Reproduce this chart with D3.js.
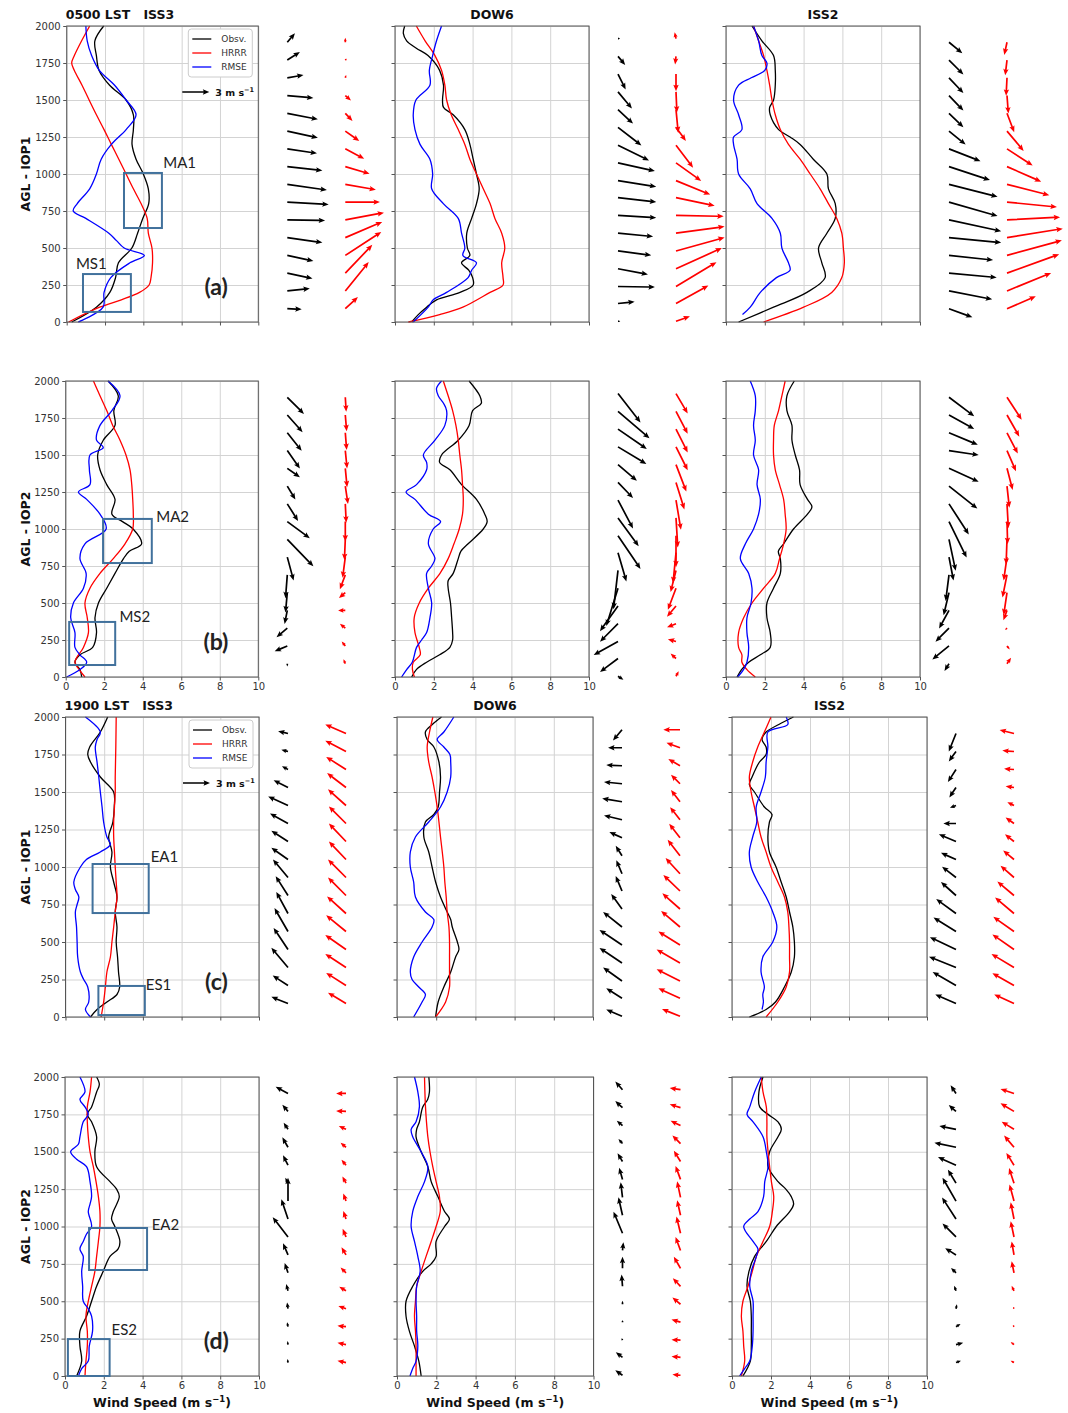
<!DOCTYPE html>
<html>
<head>
<meta charset="utf-8">
<script src="https://cdn.jsdelivr.net/npm/d3@7"></script>
<style>
  body { margin: 0; background: #fff; }
</style>
</head>
<body>
<div id="chart"></div>
<script>
// ---- shared axes / labels ----
const SPEED_TICKS = [0, 2, 4, 6, 8, 10];
const HEIGHT_TICKS = [0, 250, 500, 750, 1000, 1250, 1500, 1750, 2000];
const SITES = ['ISS3', 'DOW6', 'ISS2'];
const TIMES = ['0500 LST', '1900 LST'];
const ROW_LABELS = ['AGL - IOP1', 'AGL - IOP2', 'AGL - IOP1', 'AGL - IOP2'];
const PANEL_TAGS = ['(a)', '(b)', '(c)', '(d)'];
const LEGEND_NAMES = ['Obsv.', 'HRRR', 'RMSE'];
const REF_SPEED = 3;

// heights (m AGL) where the wind arrows are drawn
const ISS_LEVELS = [1890, 1770, 1650, 1530, 1410, 1290, 1170, 1050, 930, 810, 690, 570, 450, 330, 210, 90];
const DOW_LEVELS = [1915, 1795, 1675, 1555, 1435, 1315, 1195, 1075, 955, 840, 720, 600, 480, 360, 240, 125, 5];

// ---- wind speed profiles: [height m, speed m/s] ----
// (a) 0500 LST, IOP1
const aIss3Obs = [[2000,1.93],[1900,1.47],[1800,1.55],[1700,1.69],[1600,2.24],[1500,3.1],[1400,3.48],[1300,3.48],[1200,3.41],[1100,3.62],[1000,4.0],[900,4.26],[800,4.28],[700,3.97],[600,3.7],[500,3.4],[400,2.7],[300,2.55],[200,2.25],[100,1.55],[0,0.26]];
const aIss3Hrrr = [[2000,1.2],[1900,0.78],[1800,0.4],[1750,0.26],[1700,0.4],[1600,0.8],[1500,1.17],[1400,1.55],[1300,1.95],[1200,2.33],[1100,2.72],[1000,3.1],[900,3.48],[800,3.88],[700,4.2],[600,4.26],[500,4.45],[400,4.48],[300,4.4],[250,4.3],[200,3.8],[150,2.85],[100,1.72],[0,0.1]];
const aIss3Rmse = [[2000,1.0],[1900,1.07],[1800,1.3],[1700,1.7],[1600,2.5],[1500,3.1],[1400,3.62],[1300,3.1],[1200,2.33],[1100,1.8],[1000,1.55],[900,1.2],[800,0.55],[750,0.34],[700,1.0],[600,2.2],[550,2.6],[500,3.0],[450,4.05],[400,3.3],[300,2.3],[200,1.95],[100,1.9],[0,0.6]];
const aDow6Obs = [[2000,0.5],[1950,0.43],[1900,0.6],[1850,1.1],[1800,1.7],[1700,2.3],[1600,2.5],[1500,2.45],[1450,2.5],[1400,3.0],[1300,3.6],[1200,3.86],[1100,4.03],[1000,4.2],[900,4.34],[800,4.2],[700,3.95],[600,3.7],[500,3.73],[450,3.86],[400,3.43],[350,3.8],[300,4.0],[250,4.03],[200,3.35],[150,2.14],[100,1.63],[50,1.2],[0,0.86]];
const aDow6Hrrr = [[2000,1.1],[1900,1.55],[1800,2.06],[1700,2.4],[1600,2.57],[1500,2.66],[1400,2.9],[1300,3.26],[1200,3.6],[1100,3.86],[1000,4.2],[900,4.55],[800,4.9],[700,5.15],[600,5.5],[500,5.66],[400,5.5],[300,5.57],[250,5.57],[200,4.9],[100,3.5],[50,2.3],[0,0.69]];
const aDow6Rmse = [[2000,2.4],[1900,2.14],[1800,1.94],[1700,1.77],[1600,1.8],[1500,1.08],[1400,0.94],[1300,1.03],[1200,1.29],[1100,1.8],[1000,1.94],[900,1.89],[800,2.49],[700,3.26],[600,3.43],[500,3.6],[450,3.5],[400,4.2],[350,3.95],[300,3.77],[200,2.66],[150,1.97],[100,1.71],[0,0.94]];
const aIss2Obs = [[2000,1.34],[1900,1.85],[1800,2.45],[1700,2.54],[1600,2.54],[1500,2.45],[1450,2.25],[1400,2.28],[1300,2.71],[1250,3.3],[1200,3.82],[1100,4.5],[1000,5.2],[900,5.28],[800,5.63],[700,5.63],[600,5.2],[500,4.77],[400,4.94],[300,5.11],[200,4.17],[100,2.45],[0,0.65]];
const aIss2Hrrr = [[2000,1.42],[1900,1.68],[1800,1.94],[1700,2.11],[1600,2.25],[1500,2.37],[1400,2.54],[1300,2.8],[1200,3.22],[1100,3.82],[1000,4.34],[900,4.85],[800,5.28],[700,5.71],[600,5.97],[500,6.05],[400,6.1],[300,5.97],[200,5.45],[100,4.0],[0,1.94]];
const aIss2Rmse = [[2000,1.42],[1900,1.68],[1800,1.85],[1750,2.11],[1700,2.0],[1650,1.3],[1600,0.65],[1500,0.39],[1400,0.65],[1300,0.82],[1250,0.39],[1200,0.39],[1100,0.57],[1000,0.65],[900,1.25],[800,1.6],[700,2.37],[600,2.8],[500,2.88],[400,3.22],[350,3.3],[300,2.6],[200,1.77],[100,1.25],[50,0.85]];

// (b) 0500 LST, IOP2
const bIss3Obs = [[2000,2.2],[1900,2.73],[1800,2.5],[1700,2.56],[1600,1.95],[1500,1.66],[1400,1.78],[1300,2.13],[1200,2.56],[1100,2.4],[1050,2.95],[1000,3.5],[900,3.94],[850,3.3],[800,3.0],[700,2.56],[600,2.13],[500,1.7],[400,1.52],[300,1.6],[200,1.4],[150,0.74],[100,0.48],[50,0.74],[0,0.83]];
const bIss3Hrrr = [[2000,1.44],[1900,1.78],[1800,2.13],[1700,2.44],[1600,2.82],[1500,3.13],[1400,3.34],[1300,3.43],[1200,3.48],[1100,3.51],[1000,3.48],[900,3.08],[800,2.47],[700,1.78],[600,1.26],[500,1.0],[400,1.12],[300,1.18],[200,0.92],[100,0.48],[50,0.7],[0,1.0]];
const bIss3Rmse = [[2000,2.2],[1900,2.82],[1800,2.4],[1700,1.78],[1600,1.6],[1550,1.95],[1500,1.26],[1400,1.23],[1300,1.26],[1250,0.66],[1200,1.09],[1100,1.78],[1000,2.1],[900,1.0],[800,0.74],[700,1.06],[600,0.92],[500,0.4],[400,0.26],[300,0.48],[200,0.48],[150,0.74],[100,1.09],[50,0.74],[0,0.05]];
const bDow6Obs = [[2000,3.82],[1900,4.37],[1850,4.45],[1800,4.0],[1700,3.82],[1600,3.26],[1500,2.4],[1450,2.3],[1400,2.83],[1300,3.43],[1200,4.2],[1100,4.63],[1050,4.75],[1000,4.55],[900,3.77],[850,3.4],[800,3.26],[700,3.0],[650,2.74],[600,2.74],[500,2.86],[400,2.92],[300,2.97],[250,2.97],[200,2.83],[150,2.3],[100,1.63],[50,1.1],[0,0.86]];
const bDow6Hrrr = [[2000,2.49],[1900,2.74],[1800,2.97],[1700,3.14],[1600,3.26],[1500,3.34],[1400,3.43],[1300,3.48],[1200,3.52],[1100,3.48],[1000,3.31],[900,3.04],[800,2.74],[700,2.32],[600,1.72],[500,1.25],[400,0.99],[300,1.03],[200,1.25],[150,1.3],[100,0.94],[50,0.9],[0,1.0]];
const bDow6Rmse = [[2000,2.4],[1950,2.14],[1900,2.23],[1850,2.5],[1800,2.66],[1700,2.57],[1600,2.06],[1500,1.46],[1450,1.63],[1400,1.63],[1300,1.11],[1250,0.57],[1200,1.03],[1100,1.72],[1050,2.35],[1000,1.97],[900,1.72],[800,2.06],[750,1.89],[700,1.63],[600,1.72],[500,1.89],[400,1.8],[300,1.63],[250,1.37],[200,1.11],[100,0.89],[50,0.6],[0,0.34]];
const bIss2Obs = [[2000,3.52],[1900,3.14],[1800,3.14],[1700,3.4],[1600,3.4],[1500,3.57],[1400,3.79],[1300,3.82],[1200,4.2],[1150,4.43],[1100,4.2],[1000,3.48],[900,2.97],[850,2.7],[800,2.8],[700,2.8],[600,2.45],[500,2.11],[400,2.11],[300,2.28],[200,2.28],[150,1.77],[100,1.17],[50,0.8],[0,0.57]];
const bIss2Hrrr = [[2000,3.05],[1900,2.88],[1800,2.71],[1700,2.49],[1600,2.45],[1500,2.45],[1400,2.54],[1300,2.76],[1200,2.97],[1100,3.05],[1000,3.1],[900,2.97],[800,2.76],[700,2.54],[600,1.94],[500,1.34],[400,0.91],[300,0.65],[200,0.65],[150,0.82],[100,0.82],[50,1.08],[0,1.51]];
const bIss2Rmse = [[2000,1.25],[1900,1.51],[1800,1.51],[1700,1.42],[1600,1.51],[1500,1.42],[1400,1.68],[1300,1.6],[1200,1.77],[1100,1.68],[1000,1.42],[900,1.0],[800,0.74],[700,1.17],[600,1.34],[500,1.29],[400,1.08],[300,1.08],[200,1.17],[100,1.08],[50,0.9],[0,0.6]];

// (c) 1900 LST, IOP1
const cIss3Obs = [[2000,2.18],[1900,1.8],[1800,1.25],[1750,1.15],[1700,1.29],[1600,1.8],[1500,2.49],[1400,2.52],[1300,2.45],[1200,2.23],[1100,2.4],[1000,2.32],[900,2.49],[800,2.66],[700,2.57],[600,2.66],[500,2.62],[400,2.69],[300,2.74],[200,2.8],[150,2.66],[100,2.14],[50,1.63],[0,1.29]];
const cIss3Hrrr = [[2000,2.62],[1800,2.6],[1600,2.57],[1500,2.57],[1400,2.53],[1300,2.49],[1200,2.49],[1100,2.53],[1000,2.57],[900,2.62],[800,2.66],[700,2.57],[600,2.49],[500,2.4],[400,2.32],[300,2.14],[200,2.06],[100,1.97],[0,1.84]];
const cIss3Rmse = [[2000,1.03],[1900,1.8],[1850,1.63],[1800,1.54],[1700,1.63],[1600,1.72],[1500,1.8],[1400,1.89],[1300,1.97],[1200,2.14],[1150,2.32],[1100,1.8],[1050,1.08],[1000,0.77],[900,0.43],[850,0.51],[800,0.69],[750,0.6],[700,0.51],[600,0.57],[500,0.6],[400,0.63],[300,0.77],[250,0.94],[200,1.15],[100,1.2],[50,1.03],[0,1.29]];
const cDow6Obs = [[2000,2.27],[1950,1.8],[1900,1.45],[1850,1.54],[1800,1.88],[1700,2.14],[1600,2.22],[1500,2.17],[1400,2.1],[1350,1.88],[1300,1.45],[1200,1.37],[1100,1.62],[1000,1.79],[900,1.97],[800,2.22],[700,2.56],[650,2.74],[600,2.82],[500,3.08],[450,3.16],[400,2.99],[300,2.74],[200,2.39],[100,2.1],[0,1.97]];
const cDow6Hrrr = [[2000,1.83],[1900,1.66],[1800,1.54],[1700,1.62],[1600,1.79],[1500,1.93],[1400,2.05],[1300,2.14],[1200,2.22],[1100,2.31],[1000,2.39],[900,2.44],[800,2.51],[700,2.56],[600,2.65],[500,2.68],[400,2.68],[300,2.68],[200,2.68],[100,2.48],[0,1.97]];
const cDow6Rmse = [[2000,2.9],[1900,2.39],[1850,2.05],[1800,2.39],[1750,2.7],[1700,2.74],[1600,2.74],[1500,2.56],[1400,2.22],[1300,1.62],[1200,0.94],[1100,0.68],[1000,0.68],[900,0.85],[800,0.94],[700,1.45],[650,1.88],[600,1.79],[500,1.28],[400,0.85],[300,0.68],[250,0.77],[200,1.11],[150,1.45],[100,1.28],[0,0.85]];
const cIss2Obs = [[2000,3.15],[1950,2.4],[1900,1.75],[1850,1.54],[1800,1.75],[1750,1.75],[1700,1.41],[1600,1.03],[1550,0.89],[1500,1.15],[1400,1.66],[1350,2.05],[1300,1.92],[1200,1.84],[1100,1.92],[1000,2.26],[900,2.52],[800,2.78],[700,2.95],[600,3.12],[500,3.2],[400,3.2],[300,3.04],[200,2.69],[100,2.23],[50,1.75],[0,0.89]];
const cIss2Hrrr = [[2000,2.0],[1900,1.66],[1800,1.32],[1700,1.06],[1600,0.89],[1500,0.98],[1400,1.15],[1300,1.32],[1200,1.49],[1100,1.75],[1000,2.0],[900,2.35],[800,2.69],[700,2.86],[600,2.92],[500,2.95],[400,2.95],[300,2.95],[200,2.78],[100,2.35],[0,1.75]];
const cIss2Rmse = [[2000,2.78],[1950,2.86],[1900,1.84],[1800,1.84],[1700,1.75],[1600,1.71],[1500,1.49],[1400,1.24],[1300,1.27],[1200,1.06],[1100,0.89],[1000,0.98],[900,1.32],[800,1.75],[700,2.09],[600,2.3],[500,2.09],[400,1.58],[300,1.49],[200,1.66],[150,1.58],[100,1.61],[50,1.54]];

// (d) 1900 LST, IOP2
const dIss3Obs = [[2000,1.63],[1950,1.77],[1900,1.63],[1800,1.37],[1750,1.15],[1700,1.37],[1600,1.63],[1500,1.54],[1400,1.63],[1300,2.32],[1250,2.66],[1200,2.8],[1100,2.49],[1050,2.4],[1000,2.57],[900,2.83],[850,2.74],[800,2.32],[700,1.97],[600,1.63],[500,1.37],[400,1.11],[300,0.77],[200,0.77],[100,0.86],[0,0.6]];
const dIss3Hrrr = [[2000,1.37],[1900,1.29],[1800,1.15],[1700,1.15],[1600,1.2],[1500,1.29],[1400,1.46],[1300,1.6],[1200,1.72],[1100,1.8],[1000,1.8],[900,1.72],[800,1.63],[700,1.54],[600,1.37],[500,1.2],[400,1.08],[300,1.15],[200,1.15],[100,1.08],[0,1.03]];
const dIss3Rmse = [[2000,0.77],[1900,1.03],[1850,0.77],[1800,1.03],[1750,1.2],[1700,0.94],[1600,0.77],[1550,0.69],[1500,0.29],[1450,0.6],[1400,1.11],[1300,1.29],[1200,1.37],[1150,1.29],[1100,1.2],[1000,1.37],[950,1.11],[900,0.94],[850,0.77],[800,0.94],[700,0.86],[600,0.91],[500,0.94],[450,1.2],[400,1.37],[300,1.42],[200,1.25],[100,1.2],[50,0.86],[0,0.69]];
const dDow6Obs = [[2000,1.62],[1900,1.65],[1850,1.56],[1800,1.31],[1700,1.14],[1650,1.0],[1600,0.97],[1500,1.23],[1400,1.57],[1300,1.74],[1200,2.08],[1100,2.42],[1050,2.67],[1000,2.42],[900,1.99],[800,1.99],[750,1.74],[700,1.31],[600,0.8],[500,0.46],[400,0.46],[300,0.63],[200,0.89],[100,1.11],[0,1.23]];
const dDow6Hrrr = [[2000,1.4],[1900,1.42],[1800,1.45],[1700,1.5],[1600,1.57],[1500,1.68],[1400,1.82],[1300,1.99],[1200,2.16],[1100,2.2],[1000,1.99],[900,1.74],[800,1.48],[700,1.23],[600,1.0],[500,0.94],[400,0.89],[300,0.94],[200,0.97],[100,0.97],[0,0.97]];
const dDow6Rmse = [[2000,0.89],[1900,1.06],[1800,1.14],[1700,0.97],[1650,0.72],[1600,0.8],[1500,1.23],[1400,1.57],[1300,1.4],[1200,1.06],[1100,0.8],[1000,0.72],[900,0.89],[800,1.06],[700,1.18],[600,1.0],[500,0.97],[400,1.0],[300,1.0],[200,1.06],[100,0.97],[50,0.8],[0,0.66]];
const dIss2Obs = [[2000,1.59],[1900,1.38],[1800,1.42],[1750,1.85],[1700,2.36],[1650,2.53],[1600,2.36],[1500,1.93],[1400,1.85],[1300,2.36],[1250,2.76],[1200,3.04],[1150,3.16],[1100,2.96],[1000,2.27],[900,1.76],[800,1.16],[700,0.87],[600,0.77],[500,0.94],[400,0.99],[300,0.99],[200,0.99],[100,0.94],[0,0.56]];
const dIss2Hrrr = [[2000,1.5],[1900,1.59],[1800,1.76],[1700,1.79],[1600,1.79],[1500,1.85],[1400,1.93],[1300,2.02],[1200,2.14],[1100,2.07],[1000,1.93],[900,1.59],[800,1.25],[700,1.04],[600,0.82],[500,0.56],[400,0.48],[300,0.56],[200,0.6],[100,0.65],[0,0.48]];
const dIss2Rmse = [[2000,1.5],[1900,1.16],[1800,0.91],[1750,0.77],[1700,1.08],[1600,1.59],[1500,1.76],[1400,1.85],[1300,1.68],[1200,1.62],[1100,1.33],[1050,0.91],[1000,0.6],[900,1.08],[850,1.33],[800,1.25],[700,0.99],[600,0.91],[500,1.08],[400,1.08],[300,1.08],[200,1.04],[100,0.91],[50,0.65],[0,0.39]];

// ---- wind vectors [u, v] m/s, one per level (top to bottom) ----
const aIss3ObsWind = [[0.85,1.0],[1.4,0.9],[1.8,0.3],[2.9,-0.26],[3.4,-0.67],[3.4,-0.74],[3.3,-0.5],[3.9,-0.44],[4.4,-0.63],[4.6,-0.26],[4.2,-0.07],[3.9,-0.55],[2.9,-0.63],[2.8,-0.6],[2.5,0.26],[1.6,-0.07]];
const aIss3HrrrWind = [[0,0.5],[0.1,0.1],[0.1,0.3],[0.63,-0.55],[0.8,-0.85],[1.55,-1.1],[2.1,-1.1],[2.7,-0.8],[3.4,-0.6],[3.85,0],[4.3,0.8],[4.1,1.75],[4.0,2.6],[3.0,3.15],[2.6,3.2],[1.4,1.3]];
const aDow6ObsWind = [[0.15,0],[0.8,-0.95],[0.85,-1.7],[1.55,-1.85],[1.67,-1.55],[2.6,-2.0],[3.45,-1.7],[4.1,-0.9],[4.25,-0.67],[4.25,-0.48],[4.25,-0.26],[3.9,-0.37],[3.7,-0.48],[3.33,-0.63],[4.1,-0.07],[1.85,0.2],[0.25,0]];
const aDow6HrrrWind = [[-0.15,0.7],[-0.1,-0.9],[0,-1.9],[0.1,-2.3],[0.25,-2.6],[1.1,-1.5],[1.9,-2.5],[2.8,-2.0],[3.8,-1.55],[4.3,-0.9],[5.3,-0.1],[5.4,0.74],[5.4,1.5],[5.1,2.3],[4.5,2.7],[3.6,2.0],[1.55,0.55]];
const aIss2ObsWind = [[1.48,-1.22],[1.6,-1.6],[1.6,-1.7],[1.6,-1.67],[1.6,-1.55],[1.85,-1.5],[3.5,-1.37],[4.55,-1.5],[5.4,-1.37],[5.4,-1.55],[5.8,-1.26],[5.8,-0.55],[4.9,-0.52],[5.3,-0.48],[4.8,-0.93],[2.6,-0.96]];
const aIss2HrrrWind = [[-0.3,-1.4],[-0.2,-1.7],[-0.1,-2.0],[0.15,-2.0],[0.8,-2.1],[1.85,-2.2],[2.85,-1.85],[3.8,-1.67],[4.7,-1.2],[5.55,-0.55],[5.9,0.3],[6.2,1.0],[6.1,1.67],[5.8,2.1],[4.9,2.0],[3.2,1.37]];

const bIss3ObsWind = [[1.85,-1.85],[1.7,-1.9],[1.6,-2.0],[1.4,-2.0],[1.4,-1.0],[0.9,-1.5],[1.2,-1.9],[2.5,-1.85],[2.9,-3.0],[0.7,-2.6],[-0.2,-2.6],[-0.2,-2.2],[-0.3,-1.5],[-1.2,-1.0],[-1.4,-0.6],[0,-0.3]];
const bIss3HrrrWind = [[0.1,-1.6],[0.15,-1.8],[0.15,-1.9],[0.2,-2.0],[0.2,-2.1],[0.3,-2.0],[0.1,-2.1],[0,-2.2],[-0.1,-2.3],[-0.3,-2.3],[-0.6,-1.6],[-0.7,-0.6],[-0.8,0],[-0.6,0.5],[-0.4,0.5],[-0.2,0.5]];
const bDow6ObsWind = [[2.5,-3.2],[3.5,-3.0],[3.2,-2.2],[3.15,-1.9],[2.1,-1.8],[1.67,-1.74],[1.67,-3.15],[2.3,-3.15],[2.5,-3.7],[0.93,-3.2],[-0.5,-4.3],[-1.3,-4.2],[-2.0,-2.8],[-2.0,-2.0],[-2.7,-1.5],[-2.0,-1.5],[0.6,-0.4]];
const bDow6HrrrWind = [[1.3,-2.2],[1.3,-2.5],[1.3,-2.6],[1.3,-2.6],[1.15,-3.0],[0.93,-3.0],[0.55,-3.3],[0.2,-3.3],[0,-3.5],[-0.33,-3.4],[-0.6,-2.4],[-0.9,-2.4],[-1.0,-1.2],[-1.0,-0.4],[-0.9,0.26],[-0.6,0.55],[0.3,0.55]];
const bIss2ObsWind = [[2.8,-2.1],[2.8,-1.55],[3.2,-1.33],[3.3,-0.5],[3.3,-1.5],[3.15,-2.5],[2.2,-3.4],[1.96,-4.0],[0.74,-3.5],[0.5,-2.6],[-0.37,-2.9],[-0.6,-2.5],[-1.1,-2.0],[-1.5,-1.5],[-1.85,-1.5],[-0.5,-0.8]];
const bIss2HrrrWind = [[1.63,-2.5],[1.37,-2.4],[1.2,-2.3],[1.0,-2.3],[0.63,-2.4],[0.26,-2.4],[0.15,-2.7],[0.07,-2.5],[-0.1,-2.8],[-0.37,-2.6],[-0.5,-2.5],[-0.37,-2.5],[-0.4,-1.1],[-0.2,-0.2],[0.3,-0.4],[0.45,0.67]];

const cIss3ObsWind = [[-1.1,0.26],[-0.74,0.2],[-0.67,0.37],[-1.6,0.8],[-2.2,1.0],[-2.0,1.1],[-1.85,1.2],[-1.85,1.3],[-1.67,2.0],[-1.37,2.15],[-1.3,2.4],[-1.5,2.6],[-1.6,2.4],[-1.85,2.2],[-1.7,1.1],[-1.85,0.74]];
const cIss3HrrrWind = [[-2.3,1.0],[-2.3,1.2],[-2.2,1.4],[-2.1,1.6],[-2.0,1.8],[-1.9,1.9],[-1.9,2.0],[-1.9,2.0],[-2.0,2.0],[-2.0,2.0],[-2.1,1.9],[-2.2,1.8],[-2.3,1.6],[-2.3,1.5],[-2.2,1.4],[-2.0,1.2]];
const cDow6ObsWind = [[-1.0,-1.2],[-1.55,0],[-1.75,0.07],[-2.0,0.2],[-2.2,0.37],[-2.0,0.48],[-1.4,0.63],[-0.7,1.1],[-0.63,1.5],[-0.7,1.67],[-1.2,1.67],[-2.1,1.67],[-2.5,1.67],[-2.5,1.67],[-2.1,1.5],[-1.75,1.1],[-1.75,0.74]];
const cDow6HrrrWind = [[-1.85,0],[-1.5,0.55],[-1.3,0.74],[-1.0,1.0],[-1.0,1.3],[-1.1,1.4],[-1.2,1.55],[-1.37,1.78],[-1.6,1.74],[-1.85,1.78],[-1.96,1.74],[-2.1,1.78],[-2.4,1.5],[-2.6,1.5],[-2.6,1.3],[-2.4,1.1],[-2.0,0.8]];
const cIss2ObsWind = [[-0.8,-2.0],[-0.8,-1.1],[-0.9,-1.4],[-0.74,-1.1],[-0.67,-0.26],[-1.4,0],[-1.9,0.8],[-1.67,0.74],[-1.55,1.2],[-1.67,1.5],[-2.2,1.6],[-2.5,1.55],[-2.9,1.37],[-3.0,1.2],[-2.6,1.5],[-2.3,1.0]];
const cIss2HrrrWind = [[-1.6,0.4],[-1.3,0.1],[-1.1,0.07],[-0.93,0.15],[-0.74,0.37],[-0.93,0.67],[-1.0,0.8],[-1.2,1.0],[-1.5,1.3],[-1.85,1.55],[-2.1,1.78],[-2.3,1.63],[-2.4,1.67],[-2.5,1.5],[-2.4,1.37],[-2.2,1.0]];

const dIss3ObsWind = [[-1.37,0.74],[-0.63,0.74],[-0.48,0.74],[-0.63,1.1],[-0.55,1.1],[-0.3,0.6],[0,2.6],[-0.74,2.2],[-1.7,2.2],[-0.55,1.3],[-0.37,1.1],[-0.2,0.74],[-0.1,0.7],[-0.1,0.5],[-0.05,0.4],[-0.05,0.4]];
const dIss3HrrrWind = [[-1.1,0],[-1.1,0.05],[-0.8,0.37],[-0.6,0.5],[-0.5,0.6],[-0.4,0.75],[-0.3,0.85],[-0.3,0.9],[-0.37,0.9],[-0.5,0.85],[-0.6,0.6],[-0.75,0.45],[-0.85,0.3],[-0.95,0.1],[-0.95,0.2],[-0.95,0.2]];
const dDow6ObsWind = [[-0.8,0.9],[-0.8,0.74],[-0.63,0.55],[-0.45,0.5],[-0.55,0.9],[-0.37,1.3],[-0.2,1.67],[-0.45,2.0],[-1.0,2.4],[0.1,0.9],[0,1.3],[-0.1,1.3],[0,0.4],[0,0.15],[-0.1,0.2],[-0.74,0.55],[-0.8,0.55]];
const dDow6HrrrWind = [[-1.2,0.2],[-1.2,0.37],[-1.1,0.55],[-0.9,0.9],[-0.74,1.2],[-0.55,1.5],[-0.37,1.78],[-0.37,1.67],[-0.45,1.85],[-0.55,1.5],[-0.74,1.3],[-0.85,0.9],[-0.9,0.74],[-1.0,0.3],[-1.0,0.05],[-1.0,0.1],[-0.9,0.07]];
const dIss2ObsWind = [[-0.6,0.9],[-0.8,0.7],[-1.85,0.37],[-2.4,0.5],[-2.0,0.9],[-0.9,1.5],[-1.5,2.6],[-1.55,2.4],[-1.5,1.5],[-1.2,0.75],[-0.55,0.55],[-0.2,0.55],[0.1,0.5],[0.5,0.3],[0.8,0.2],[0.55,0.2]];
const dIss2HrrrWind = [[-1.5,0.5],[-1.5,0.9],[-1.37,0.85],[-1.1,1.3],[-0.85,1.37],[-0.55,1.67],[-0.5,1.85],[-0.37,1.85],[-0.37,1.75],[-0.26,1.5],[-0.26,1.3],[-0.26,0.55],[-0.1,0.2],[-0.1,0.15],[-0.37,0.3],[-0.37,0.2]];

// ---- highlighted boxes (speed m/s, height m) ----
const boxes = [
    { row: 0, name: 'MA1', s0: 2.99, s1: 4.97, h0: 635, h1: 1007, ls: 5.04, lh: 1040 },
    { row: 0, name: 'MS1', s0: 0.85, s1: 3.35, h0: 68, h1: 324, ls: 0.48, lh: 358 },
    { row: 1, name: 'MA2', s0: 1.94, s1: 4.47, h0: 770, h1: 1068, ls: 4.7, lh: 1047 },
    { row: 1, name: 'MS2', s0: 0.18, s1: 2.57, h0: 81, h1: 372, ls: 2.79, lh: 372 },
    { row: 2, name: 'EA1', s0: 1.4, s1: 4.3, h0: 693, h1: 1020, ls: 4.4, lh: 1033 },
    { row: 2, name: 'ES1', s0: 1.7, s1: 4.1, h0: 13, h1: 207, ls: 4.15, lh: 180 },
    { row: 3, name: 'EA2', s0: 1.24, s1: 4.23, h0: 709, h1: 990, ls: 4.47, lh: 977 },
    { row: 3, name: 'ES2', s0: 0.15, s1: 2.3, h0: 0, h1: 247, ls: 2.4, lh: 274 }
];

// ---- layout ----
const W = 1068, H = 1413;
const ROWS = [
    { top: 26, bottom: 322 },
    { top: 381, bottom: 677 },
    { top: 717, bottom: 1017 },
    { top: 1077, bottom: 1376 }
];
const COLS = [
    [[66.7, 258.3], [395, 589], [726, 920]],
    [[65.7, 258.3], [395, 589], [726, 920]],
    [[65.5, 259], [397, 593], [732, 927]],
    [[65, 259], [397, 593.5], [732, 927]]
];
const ARROW_PX = 9;       // px per m/s
const COLORS = { obs: '#000000', hrrr: '#ff0000', rmse: '#0000ff' };
const BOX_COLOR = '#41719c';
const TICK_FONT = '"DejaVu Sans", sans-serif';
const NOTE_FONT = 'Lato, "Open Sans", sans-serif';

const panelSeries = [
    [[aIss3Obs, aIss3Hrrr, aIss3Rmse, aIss3ObsWind, aIss3HrrrWind],
     [aDow6Obs, aDow6Hrrr, aDow6Rmse, aDow6ObsWind, aDow6HrrrWind],
     [aIss2Obs, aIss2Hrrr, aIss2Rmse, aIss2ObsWind, aIss2HrrrWind]],
    [[bIss3Obs, bIss3Hrrr, bIss3Rmse, bIss3ObsWind, bIss3HrrrWind],
     [bDow6Obs, bDow6Hrrr, bDow6Rmse, bDow6ObsWind, bDow6HrrrWind],
     [bIss2Obs, bIss2Hrrr, bIss2Rmse, bIss2ObsWind, bIss2HrrrWind]],
    [[cIss3Obs, cIss3Hrrr, cIss3Rmse, cIss3ObsWind, cIss3HrrrWind],
     [cDow6Obs, cDow6Hrrr, cDow6Rmse, cDow6ObsWind, cDow6HrrrWind],
     [cIss2Obs, cIss2Hrrr, cIss2Rmse, cIss2ObsWind, cIss2HrrrWind]],
    [[dIss3Obs, dIss3Hrrr, dIss3Rmse, dIss3ObsWind, dIss3HrrrWind],
     [dDow6Obs, dDow6Hrrr, dDow6Rmse, dDow6ObsWind, dDow6HrrrWind],
     [dIss2Obs, dIss2Hrrr, dIss2Rmse, dIss2ObsWind, dIss2HrrrWind]]
];

const svg = d3.select('#chart')
    .append('svg')
    .attr('width', W)
    .attr('height', H)
    .style('display', 'block')
    .style('background', '#fff');

// quiver style arrow, pointing along +x, tail at origin
function arrowShape(len) {
    const w = 1.7;
    let hl = 6.5, ha = 5.6, hw = 5.4;
    if (len < hl * 1.3) {
        const k = len / (hl * 1.3);
        hl *= k; ha *= k; hw = Math.max(w * 1.2, hw * k);
    }
    const pts = [[0, -w / 2], [len - ha, -w / 2], [len - hl, -hw / 2], [len, 0],
        [len - hl, hw / 2], [len - ha, w / 2], [0, w / 2]];
    return 'M' + pts.map(p => p.map(v => v.toFixed(2)).join(',')).join('L') + 'Z';
}

function drawArrows(g, winds, levels, xTail, y, color) {
    const data = winds.map((d, i) => ({ u: d[0], v: d[1], h: levels[i] }))
        .filter(d => Math.hypot(d.u, d.v) > 0.05);
    g.selectAll(null)
        .data(data)
        .join('path')
        .attr('d', d => arrowShape(Math.max(2, Math.hypot(d.u, d.v) * ARROW_PX)))
        .attr('transform', d => `translate(${xTail},${y(d.h)}) rotate(${-Math.atan2(d.v, d.u) * 180 / Math.PI})`)
        .attr('fill', color);
}

function drawPanel(r, c) {
    const [x0, x1] = COLS[r][c];
    const { top, bottom } = ROWS[r];
    const [obs, hrrr, rmse, obsWind, hrrrWind] = panelSeries[r][c];
    const levels = c === 1 ? DOW_LEVELS : ISS_LEVELS;

    const x = d3.scaleLinear().domain([0, 10]).range([x0, x1]);
    const y = d3.scaleLinear().domain([0, 2000]).range([bottom, top]);
    const g = svg.append('g');

    // grid
    g.append('g')
        .attr('transform', `translate(0,${bottom})`)
        .call(d3.axisBottom(x).tickValues(SPEED_TICKS).tickSize(-(bottom - top)).tickFormat(''))
        .call(s => s.select('.domain').remove())
        .call(s => s.selectAll('line').attr('stroke', '#d3d3d3').attr('stroke-width', 1));
    g.append('g')
        .attr('transform', `translate(${x0},0)`)
        .call(d3.axisLeft(y).tickValues(HEIGHT_TICKS).tickSize(-(x1 - x0)).tickFormat(''))
        .call(s => s.select('.domain').remove())
        .call(s => s.selectAll('line').attr('stroke', '#d3d3d3').attr('stroke-width', 1));

    // profiles
    const line = d3.line()
        .x(d => x(d[1]))
        .y(d => y(d[0]))
        .curve(d3.curveCatmullRom.alpha(0.5));
    [[obs, COLORS.obs], [hrrr, COLORS.hrrr], [rmse, COLORS.rmse]].forEach(([series, color]) => {
        g.append('path')
            .datum(series)
            .attr('d', line)
            .attr('fill', 'none')
            .attr('stroke', color)
            .attr('stroke-width', 1.3)
            .attr('stroke-linejoin', 'round');
    });

    // frame + outer ticks
    g.append('rect')
        .attr('x', x0).attr('y', top)
        .attr('width', x1 - x0).attr('height', bottom - top)
        .attr('fill', 'none').attr('stroke', '#555').attr('stroke-width', 1);

    const yAxis = g.append('g')
        .attr('transform', `translate(${x0},0)`)
        .call(d3.axisLeft(y).tickValues(HEIGHT_TICKS).tickSize(3.5).tickPadding(2.5)
            .tickFormat(c === 0 ? d3.format('d') : ''));
    yAxis.select('.domain').remove();
    yAxis.selectAll('line').attr('stroke', '#555');
    yAxis.selectAll('text').attr('font-family', TICK_FONT).attr('font-size', 10).attr('fill', '#333');

    const showX = r === 1 || r === 3;
    const xAxis = g.append('g')
        .attr('transform', `translate(0,${bottom})`)
        .call(d3.axisBottom(x).tickValues(SPEED_TICKS).tickSize(3.5).tickPadding(2)
            .tickFormat(showX ? d3.format('d') : ''));
    xAxis.select('.domain').remove();
    xAxis.selectAll('line').attr('stroke', '#555');
    xAxis.selectAll('text').attr('font-family', TICK_FONT).attr('font-size', 10).attr('fill', '#333');

    // wind arrows
    drawArrows(g, obsWind, levels, x1 + 29, y, COLORS.obs);
    drawArrows(g, hrrrWind, levels, x1 + 87, y, COLORS.hrrr);

    // titles
    if (r === 0 || r === 2) {
        const t = g.append('text')
            .attr('y', top - 7)
            .attr('font-family', TICK_FONT)
            .attr('font-weight', 'bold')
            .attr('font-size', 12.5)
            .attr('fill', '#111');
        if (c === 0) {
            t.attr('x', x0 - 1).attr('text-anchor', 'start')
                .attr('xml:space', 'preserve')
                .text(`${TIMES[r / 2]}   ${SITES[c]}`);
        } else {
            t.attr('x', (x0 + x1) / 2).attr('text-anchor', 'middle').text(SITES[c]);
        }
    }

    if (c === 0) {
        // row label
        g.append('text')
            .attr('transform', `translate(30,${(top + bottom) / 2}) rotate(-90)`)
            .attr('text-anchor', 'middle')
            .attr('font-family', TICK_FONT)
            .attr('font-weight', 'bold')
            .attr('font-size', 12.5)
            .attr('fill', '#111')
            .text(ROW_LABELS[r]);

        // highlighted regions
        boxes.filter(b => b.row === r).forEach(b => {
            g.append('rect')
                .attr('x', x(b.s0)).attr('y', y(b.h1))
                .attr('width', x(b.s1) - x(b.s0)).attr('height', y(b.h0) - y(b.h1))
                .attr('fill', 'none').attr('stroke', BOX_COLOR).attr('stroke-width', 2);
            g.append('text')
                .attr('x', x(b.ls)).attr('y', y(b.lh))
                .attr('font-family', NOTE_FONT).attr('font-size', 15).attr('fill', '#222')
                .text(b.name);
        });

        g.append('text')
            .attr('x', x(7.8)).attr('y', bottom - 27)
            .attr('text-anchor', 'middle')
            .attr('font-family', NOTE_FONT)
            .attr('font-weight', 'bold')
            .attr('font-size', 23)
            .attr('fill', '#222')
            .text(PANEL_TAGS[r]);

        if (r === 0 || r === 2) drawLegend(g, x1, top);
    }

    if (r === 3) {
        const t = g.append('text')
            .attr('x', (x0 + x1) / 2).attr('y', bottom + 31)
            .attr('text-anchor', 'middle')
            .attr('font-family', TICK_FONT)
            .attr('font-weight', 'bold')
            .attr('font-size', 12.5)
            .attr('fill', '#111');
        t.append('tspan').text('Wind Speed (m s');
        t.append('tspan').attr('dy', -5).attr('font-size', 8.5).text('\u22121');
        t.append('tspan').attr('dy', 5).text(')');
    }
}

function drawLegend(g, x1, top) {
    const bx = x1 - 70, by = top + 3;
    g.append('rect')
        .attr('x', bx).attr('y', by).attr('width', 64).attr('height', 48)
        .attr('rx', 3).attr('fill', '#fff').attr('stroke', '#ccc').attr('stroke-width', 1);
    [COLORS.obs, COLORS.hrrr, COLORS.rmse].forEach((color, i) => {
        const yy = by + 10 + i * 14;
        g.append('line')
            .attr('x1', bx + 4).attr('x2', bx + 23).attr('y1', yy).attr('y2', yy)
            .attr('stroke', color).attr('stroke-width', 1.3);
        g.append('text')
            .attr('x', bx + 33).attr('y', yy + 3.2)
            .attr('font-family', TICK_FONT).attr('font-size', 9).attr('fill', '#333')
            .text(LEGEND_NAMES[i]);
    });

    // reference arrow
    const ay = top + 66;
    g.append('path')
        .attr('d', arrowShape(REF_SPEED * ARROW_PX))
        .attr('transform', `translate(${x1 - 76},${ay})`)
        .attr('fill', '#000');
    const t = g.append('text')
        .attr('x', x1 - 43).attr('y', ay + 3.5)
        .attr('font-family', TICK_FONT).attr('font-weight', 'bold').attr('font-size', 9.5)
        .attr('fill', '#111');
    t.append('tspan').text('3 m s');
    t.append('tspan').attr('dy', -4).attr('font-size', 6.5).text('\u22121');
}

for (let r = 0; r < 4; r++) {
    for (let c = 0; c < 3; c++) drawPanel(r, c);
}
</script>
</body>
</html>
